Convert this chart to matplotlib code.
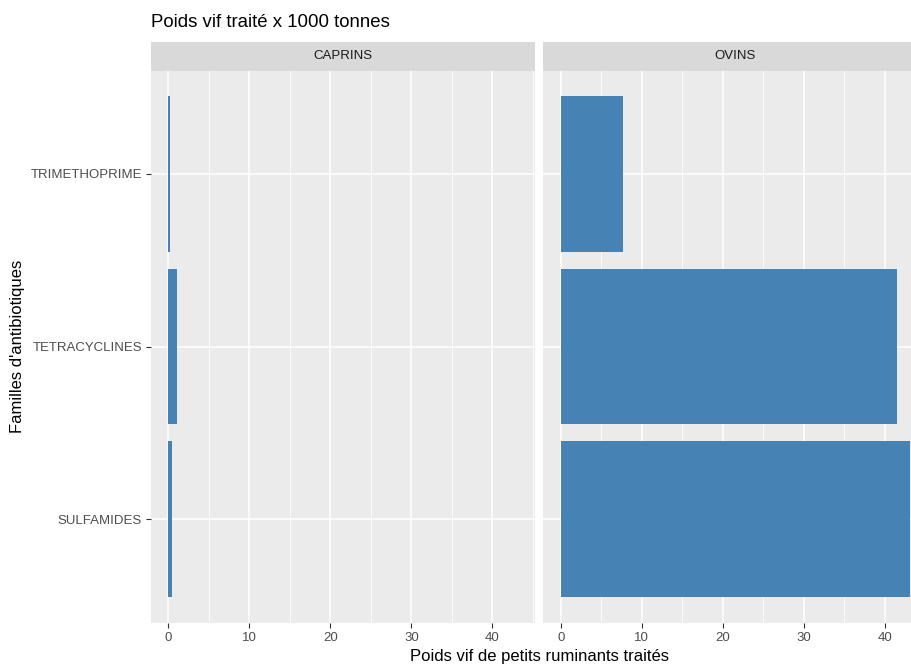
import matplotlib.pyplot as plt
from matplotlib.patches import Rectangle
from matplotlib.ticker import MultipleLocator
import numpy as np

plt.rcParams['font.family'] = ['Liberation Sans', 'DejaVu Sans']

familles = ["SULFAMIDES", "TETRACYCLINES", "TRIMETHOPRIME"]
especes = ["CAPRINS", "OVINS"]
caprins = [0.4, 1.0, 0.25]
ovins = [43.1, 41.5, 7.7]
valeurs = {"CAPRINS": caprins, "OVINS": ovins}

W, H = 912, 666
fig = plt.figure(figsize=(W / 100, H / 100), dpi=100)

def px_axes(x0, x1, y0, y1):
    return fig.add_axes([x0 / W, 1 - y1 / H, (x1 - x0) / W, (y1 - y0) / H])

vmax = max(max(caprins), max(ovins))
xlim = (-0.05 * vmax, 1.05 * vmax)
y = np.arange(len(familles))

panels = [(151, 535), (543.3, 927.3)]
top, bottom = 70.5, 622.5
strip_h = 28.5

for i, (esp, (x0, x1)) in enumerate(zip(especes, panels)):
    ax = px_axes(x0, x1, top, bottom)
    ax.set_facecolor('#EBEBEB')
    for s in ax.spines.values():
        s.set_visible(False)
    ax.barh(y, valeurs[esp], height=0.9, color='#4682B4', zorder=3)
    ax.set_xlim(*xlim)
    ax.set_ylim(-0.6, len(familles) - 0.4)
    ax.xaxis.set_major_locator(MultipleLocator(10))
    ax.xaxis.set_minor_locator(MultipleLocator(5))
    ax.grid(which='major', color='white', lw=1.1, zorder=1)
    ax.grid(which='minor', axis='x', color='white', lw=0.55, zorder=1)
    ax.tick_params(which='major', length=3.5, width=0.8, color='#333333',
                   labelcolor='#4D4D4D', labelsize=9.5, pad=3)
    ax.tick_params(which='minor', length=0)
    ax.set_yticks(y)
    if i == 0:
        ax.set_yticklabels(familles)
    else:
        ax.tick_params(axis='y', left=False, labelleft=False)
    # bandeau de facette
    ax.add_patch(Rectangle((0, 1), 1, strip_h / (bottom - top), transform=ax.transAxes,
                           facecolor='#D9D9D9', edgecolor='none', clip_on=False))
    ax.text(0.5, 1 + strip_h / 2 / (bottom - top), esp, transform=ax.transAxes,
            ha='center', va='center', fontsize=9.5, color='#1A1A1A')

fig.text(151 / W, 1 - 22.5 / H, "Poids vif traité x 1000 tonnes", ha='left', va='center',
         fontsize=13.4, color='black')
fig.text(539 / W, 1 - 657 / H, "Poids vif de petits ruminants traités", ha='center',
         va='center', fontsize=12, color='black')
fig.text(18 / W, 1 - 346 / H, "Familles d'antibiotiques", rotation=90, ha='center',
         va='center', fontsize=12, color='black')

plt.savefig("out.png", dpi=100)
